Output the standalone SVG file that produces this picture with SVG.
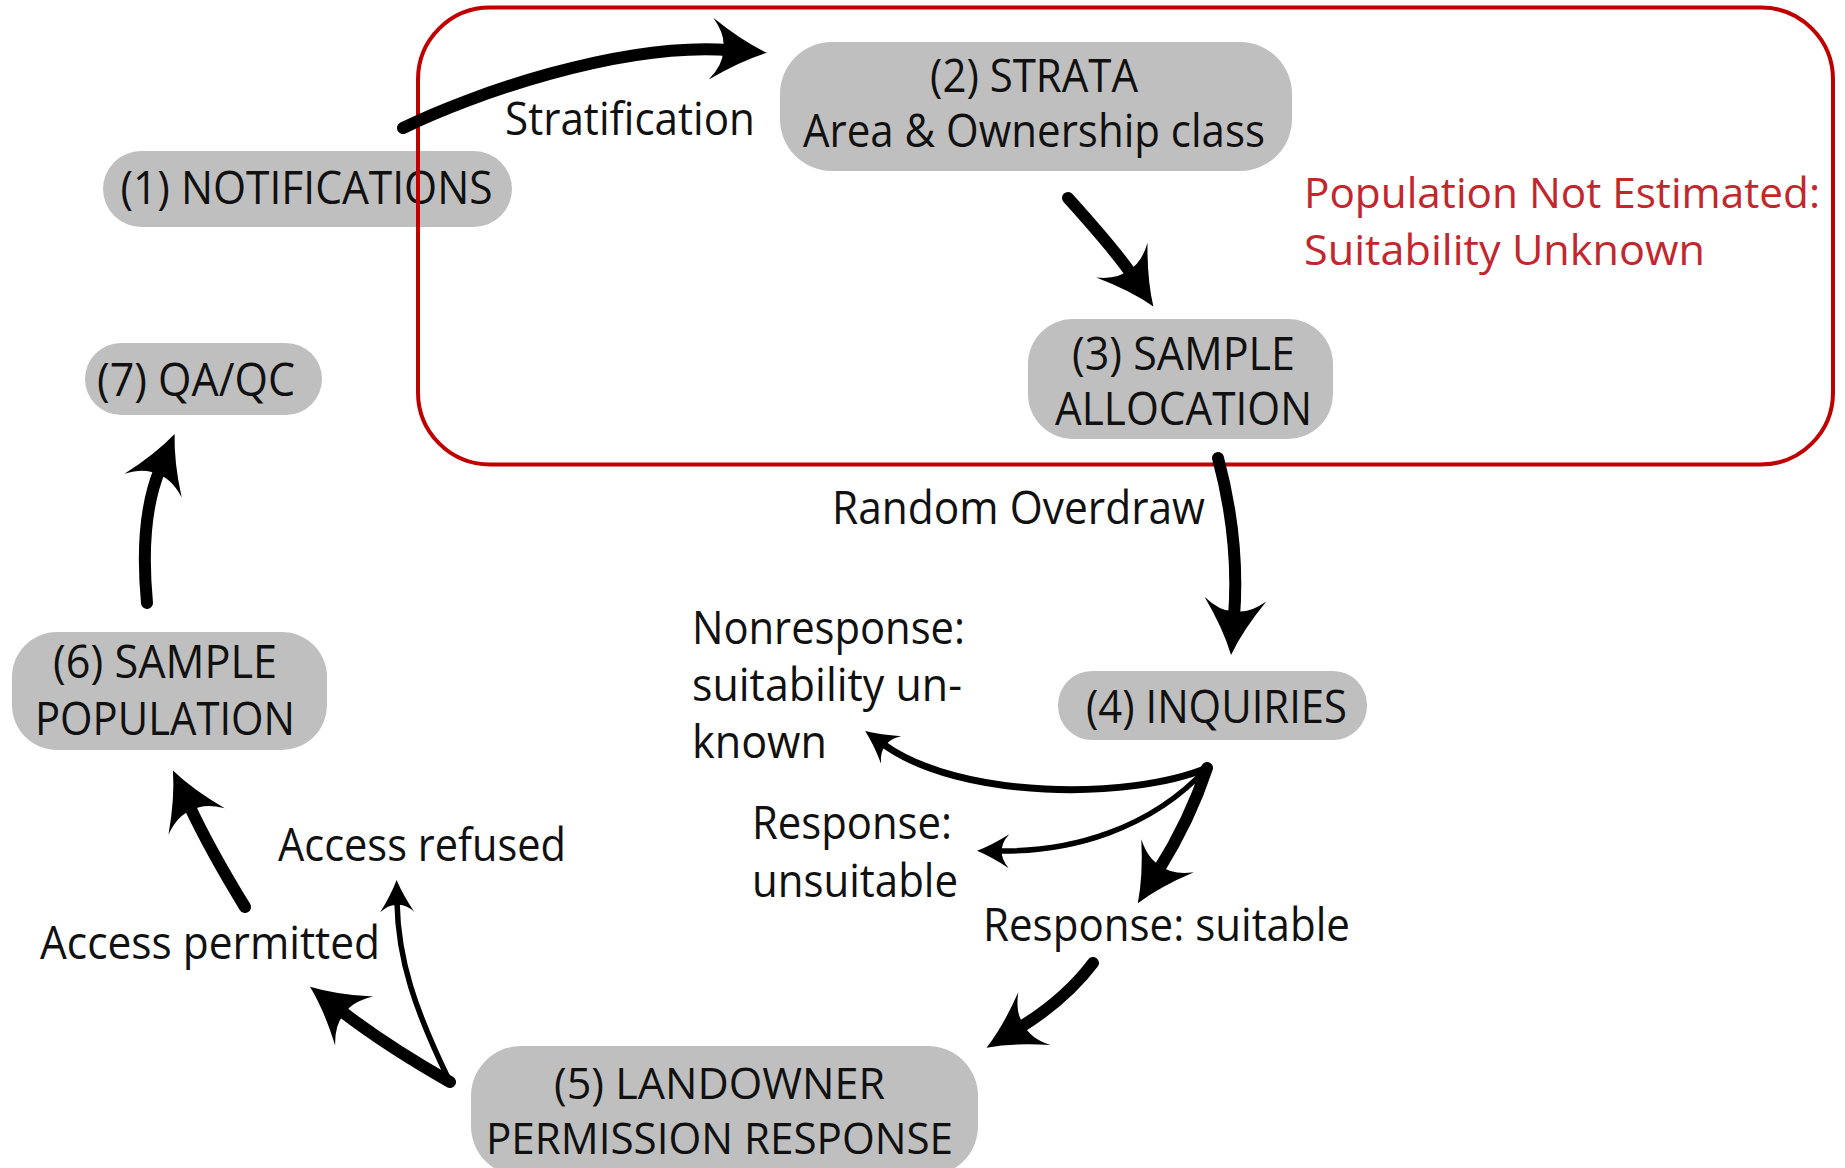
<svg xmlns="http://www.w3.org/2000/svg" width="1845" height="1168" viewBox="0 0 1845 1168">
<style>
  .node rect { fill: #bfbfbf; }
  text { font-family: "Open Sans", "Noto Sans", "Liberation Sans", sans-serif; font-size: 45px; fill: #111; }
  .sm { font-size: 43px; }
  .red { fill: #c1272d; font-size: 42px; }
  .frame { fill: none; stroke: #c00000; stroke-width: 4; }
  .conn path { fill: none; stroke: #000; stroke-linecap: round; }
  .thick { stroke-width: 12; marker-end: url(#hl); }
  .med { stroke-width: 7; marker-end: url(#hs); }
  .thin { stroke-width: 5.5; marker-end: url(#hs); }
</style>
<defs>
  <marker id="hl" markerUnits="userSpaceOnUse" viewBox="-20 -35 60 70" markerWidth="60" markerHeight="70" refX="0" refY="0" orient="auto" overflow="visible">
    <path d="M38,0 Q12,-10 -18,-31 Q-4,-14 -6,0 Q-4,14 -18,31 Q12,10 38,0 Z" fill="#000"/>
  </marker>
  <marker id="hs" markerUnits="userSpaceOnUse" viewBox="-12 -20 36 40" markerWidth="36" markerHeight="40" refX="0" refY="0" orient="auto" overflow="visible">
    <path d="M22,0 Q7,-6 -10,-17 Q-2,-8 -3,0 Q-2,8 -10,17 Q7,6 22,0 Z" fill="#000"/>
  </marker>
</defs>
<rect width="1845" height="1168" fill="#fff"/>

<g id="n1" class="node">
  <rect x="103" y="151" width="409" height="76" rx="38"/>
  <text x="120.5" y="204" textLength="372" lengthAdjust="spacingAndGlyphs">(1) NOTIFICATIONS</text>
</g>
<g id="n2" class="node">
  <rect x="780" y="42" width="512" height="129" rx="52"/>
  <text x="930" y="92" textLength="208" lengthAdjust="spacingAndGlyphs">(2) STRATA</text>
  <text x="803" y="147" textLength="462" lengthAdjust="spacingAndGlyphs">Area &amp; Ownership class</text>
</g>
<g id="n3" class="node">
  <rect x="1028" y="319" width="305" height="120" rx="45"/>
  <text x="1072" y="370" textLength="223" lengthAdjust="spacingAndGlyphs">(3) SAMPLE</text>
  <text x="1055" y="425" textLength="257" lengthAdjust="spacingAndGlyphs">ALLOCATION</text>
</g>
<g id="n4" class="node">
  <rect x="1058" y="671" width="309" height="69" rx="34"/>
  <text x="1086" y="723" textLength="261" lengthAdjust="spacingAndGlyphs">(4) INQUIRIES</text>
</g>
<g id="n5" class="node">
  <rect x="471" y="1046" width="507" height="130" rx="50"/>
  <text class="sm" x="554" y="1099" textLength="331" lengthAdjust="spacingAndGlyphs">(5) LANDOWNER</text>
  <text class="sm" x="486" y="1154" textLength="467" lengthAdjust="spacingAndGlyphs">PERMISSION RESPONSE</text>
</g>
<g id="n6" class="node">
  <rect x="12" y="632" width="315" height="118" rx="45"/>
  <text x="53" y="678" textLength="224" lengthAdjust="spacingAndGlyphs">(6) SAMPLE</text>
  <text x="35" y="735" textLength="260" lengthAdjust="spacingAndGlyphs">POPULATION</text>
</g>
<g id="n7" class="node">
  <rect x="85" y="343" width="237" height="72" rx="36"/>
  <text x="97" y="396" textLength="198" lengthAdjust="spacingAndGlyphs">(7) QA/QC</text>
</g>

<g id="frame">
  <rect class="frame" x="418" y="7.5" width="1415" height="457" rx="72"/>
  <text class="red" x="1304" y="208" textLength="516" lengthAdjust="spacingAndGlyphs">Population Not Estimated:</text>
  <text class="red" x="1304" y="265" textLength="401" lengthAdjust="spacingAndGlyphs">Suitability Unknown</text>
</g>

<g id="connectors" class="conn">
  <path class="thick" d="M403,128 C470,95 620,42 729,50"/>
  <path class="thick" d="M1068,198 Q1115,250 1132,275"/>
  <path class="thick" d="M1218,458 Q1240,540 1234,617"/>
  <path class="med" d="M1207,768 C1130,800 960,800 883,744"/>
  <path class="thin" d="M1207,768 C1150,830 1070,852 999,851"/>
  <path class="thick" d="M1207,768 Q1190,820 1158,871"/>
  <path class="thick" d="M1093,963 Q1065,1000 1019,1028"/>
  <path class="thick" d="M450,1082 Q385,1045 340,1010"/>
  <path class="thin" d="M450,1082 C415,1010 398,960 397,902"/>
  <path class="thick" d="M245,907 Q210,850 189,805"/>
  <path class="thick" d="M147,603 C142,550 145,505 160,469"/>
</g>

<g id="labels">
  <text x="505" y="135" textLength="250" lengthAdjust="spacingAndGlyphs">Stratification</text>
  <text x="832" y="524" textLength="373" lengthAdjust="spacingAndGlyphs">Random Overdraw</text>
  <text x="692" y="644" textLength="273" lengthAdjust="spacingAndGlyphs">Nonresponse:</text>
  <text x="692" y="701" textLength="270" lengthAdjust="spacingAndGlyphs">suitability un-</text>
  <text x="692" y="758" textLength="135" lengthAdjust="spacingAndGlyphs">known</text>
  <text x="752" y="839" textLength="200" lengthAdjust="spacingAndGlyphs">Response:</text>
  <text x="752" y="897" textLength="206" lengthAdjust="spacingAndGlyphs">unsuitable</text>
  <text x="983" y="941" textLength="367" lengthAdjust="spacingAndGlyphs">Response: suitable</text>
  <text x="278" y="861" textLength="288" lengthAdjust="spacingAndGlyphs">Access refused</text>
  <text x="40" y="959" textLength="340" lengthAdjust="spacingAndGlyphs">Access permitted</text>
</g>
</svg>
